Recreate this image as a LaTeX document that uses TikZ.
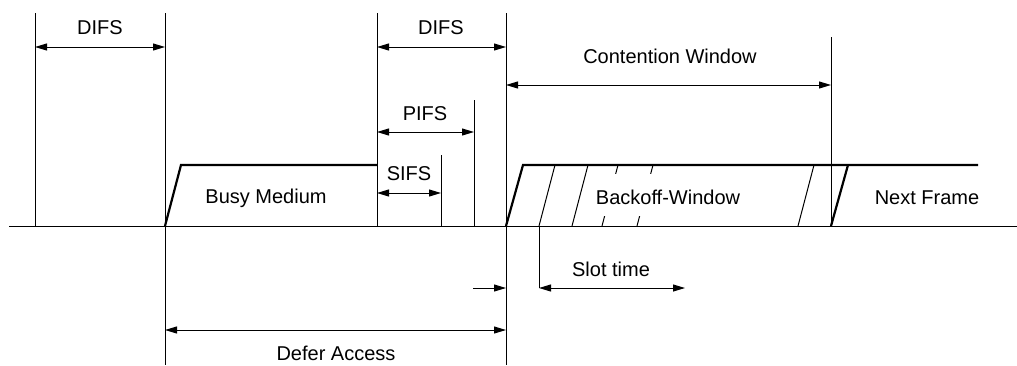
\documentclass[tikz,border=0pt]{standalone}
\usepackage{fontspec}
\setmainfont{Liberation Sans}
\usetikzlibrary{arrows.meta}

\tikzset{
  lbl/.style={anchor=base, font=\fontsize{20}{24}\selectfont},
  span/.style={{Triangle[length=12pt,width=7pt]}-{Triangle[length=12pt,width=7pt]}},
  onearrow/.style={-{Triangle[length=12pt,width=7pt]}},
  frameline/.style={line width=2.2pt},
}

\begin{document}
\begin{tikzpicture}[x=1pt,y=-1pt,line width=1pt]
\useasboundingbox (0,0) rectangle (1017,365);

% instants on the time axis
\coordinate (ta) at (35,226);
\coordinate (tb) at (165,226);
\coordinate (tc) at (377,226);
\coordinate (td) at (441,226);
\coordinate (te) at (474,226);
\coordinate (tf) at (506,226);
\coordinate (tg) at (539,226);
\coordinate (th) at (831,226);

\draw (9,226) -- (1017,226);

\draw (ta) -- (ta |- 0,13);
\draw (tb |- 0,13) -- (tb |- 0,365);
\draw (tc) -- (tc |- 0,13);
\draw (td) -- (td |- 0,155);
\draw (te) -- (te |- 0,100);
\draw (tf |- 0,13) -- (tf |- 0,365);
\draw (tg) -- (tg |- 0,288);
\draw (th) -- (th |- 0,37);

% frames on the medium
\draw[frameline] (tb) -- ++(16,-61) -- (tc |- 0,165);
\draw[frameline] (tf) -- ++(17,-61) -- (978,165);
\draw[frameline] (th) -- ++(17,-61);
\foreach \s in {539,572,602,637,798}
  \draw (\s,226) -- ++(16,-61);

\node[lbl] (busy) at (266,203) {Busy Medium};
\node[lbl, fill=white, inner xsep=2pt, text depth=9pt, text height=27pt] (backoff) at (668,204) {Backoff-Window};
\node[lbl] (next) at (927,204) {Next Frame};

% intervals
\draw[span] (ta |- 0,47) -- (tb |- 0,47);
\node[lbl] (difsa) at (100,34) {DIFS};
\draw[span] (tc |- 0,47) -- (tf |- 0,47);
\node[lbl] (difsb) at (441,34) {DIFS};
\draw[span] (tf |- 0,85) -- (th |- 0,85);
\node[lbl] (cw) at (670,63) {Contention Window};
\draw[span] (tc |- 0,132) -- (te |- 0,132);
\node[lbl] (pifs) at (425,120) {PIFS};
\draw[span] (tc |- 0,193) -- (td |- 0,193);
\node[lbl] (sifs) at (409,180) {SIFS};

\draw[span] (tg |- 0,288) -- (685,288);
\node[lbl] (slot) at (611,276) {Slot time};
\draw[onearrow] (473,288) -- (tf |- 0,288);
\draw[span] (tb |- 0,330) -- (tf |- 0,330);
\node[lbl] (defer) at (336,360) {Defer Access};

\end{tikzpicture}
\end{document}
